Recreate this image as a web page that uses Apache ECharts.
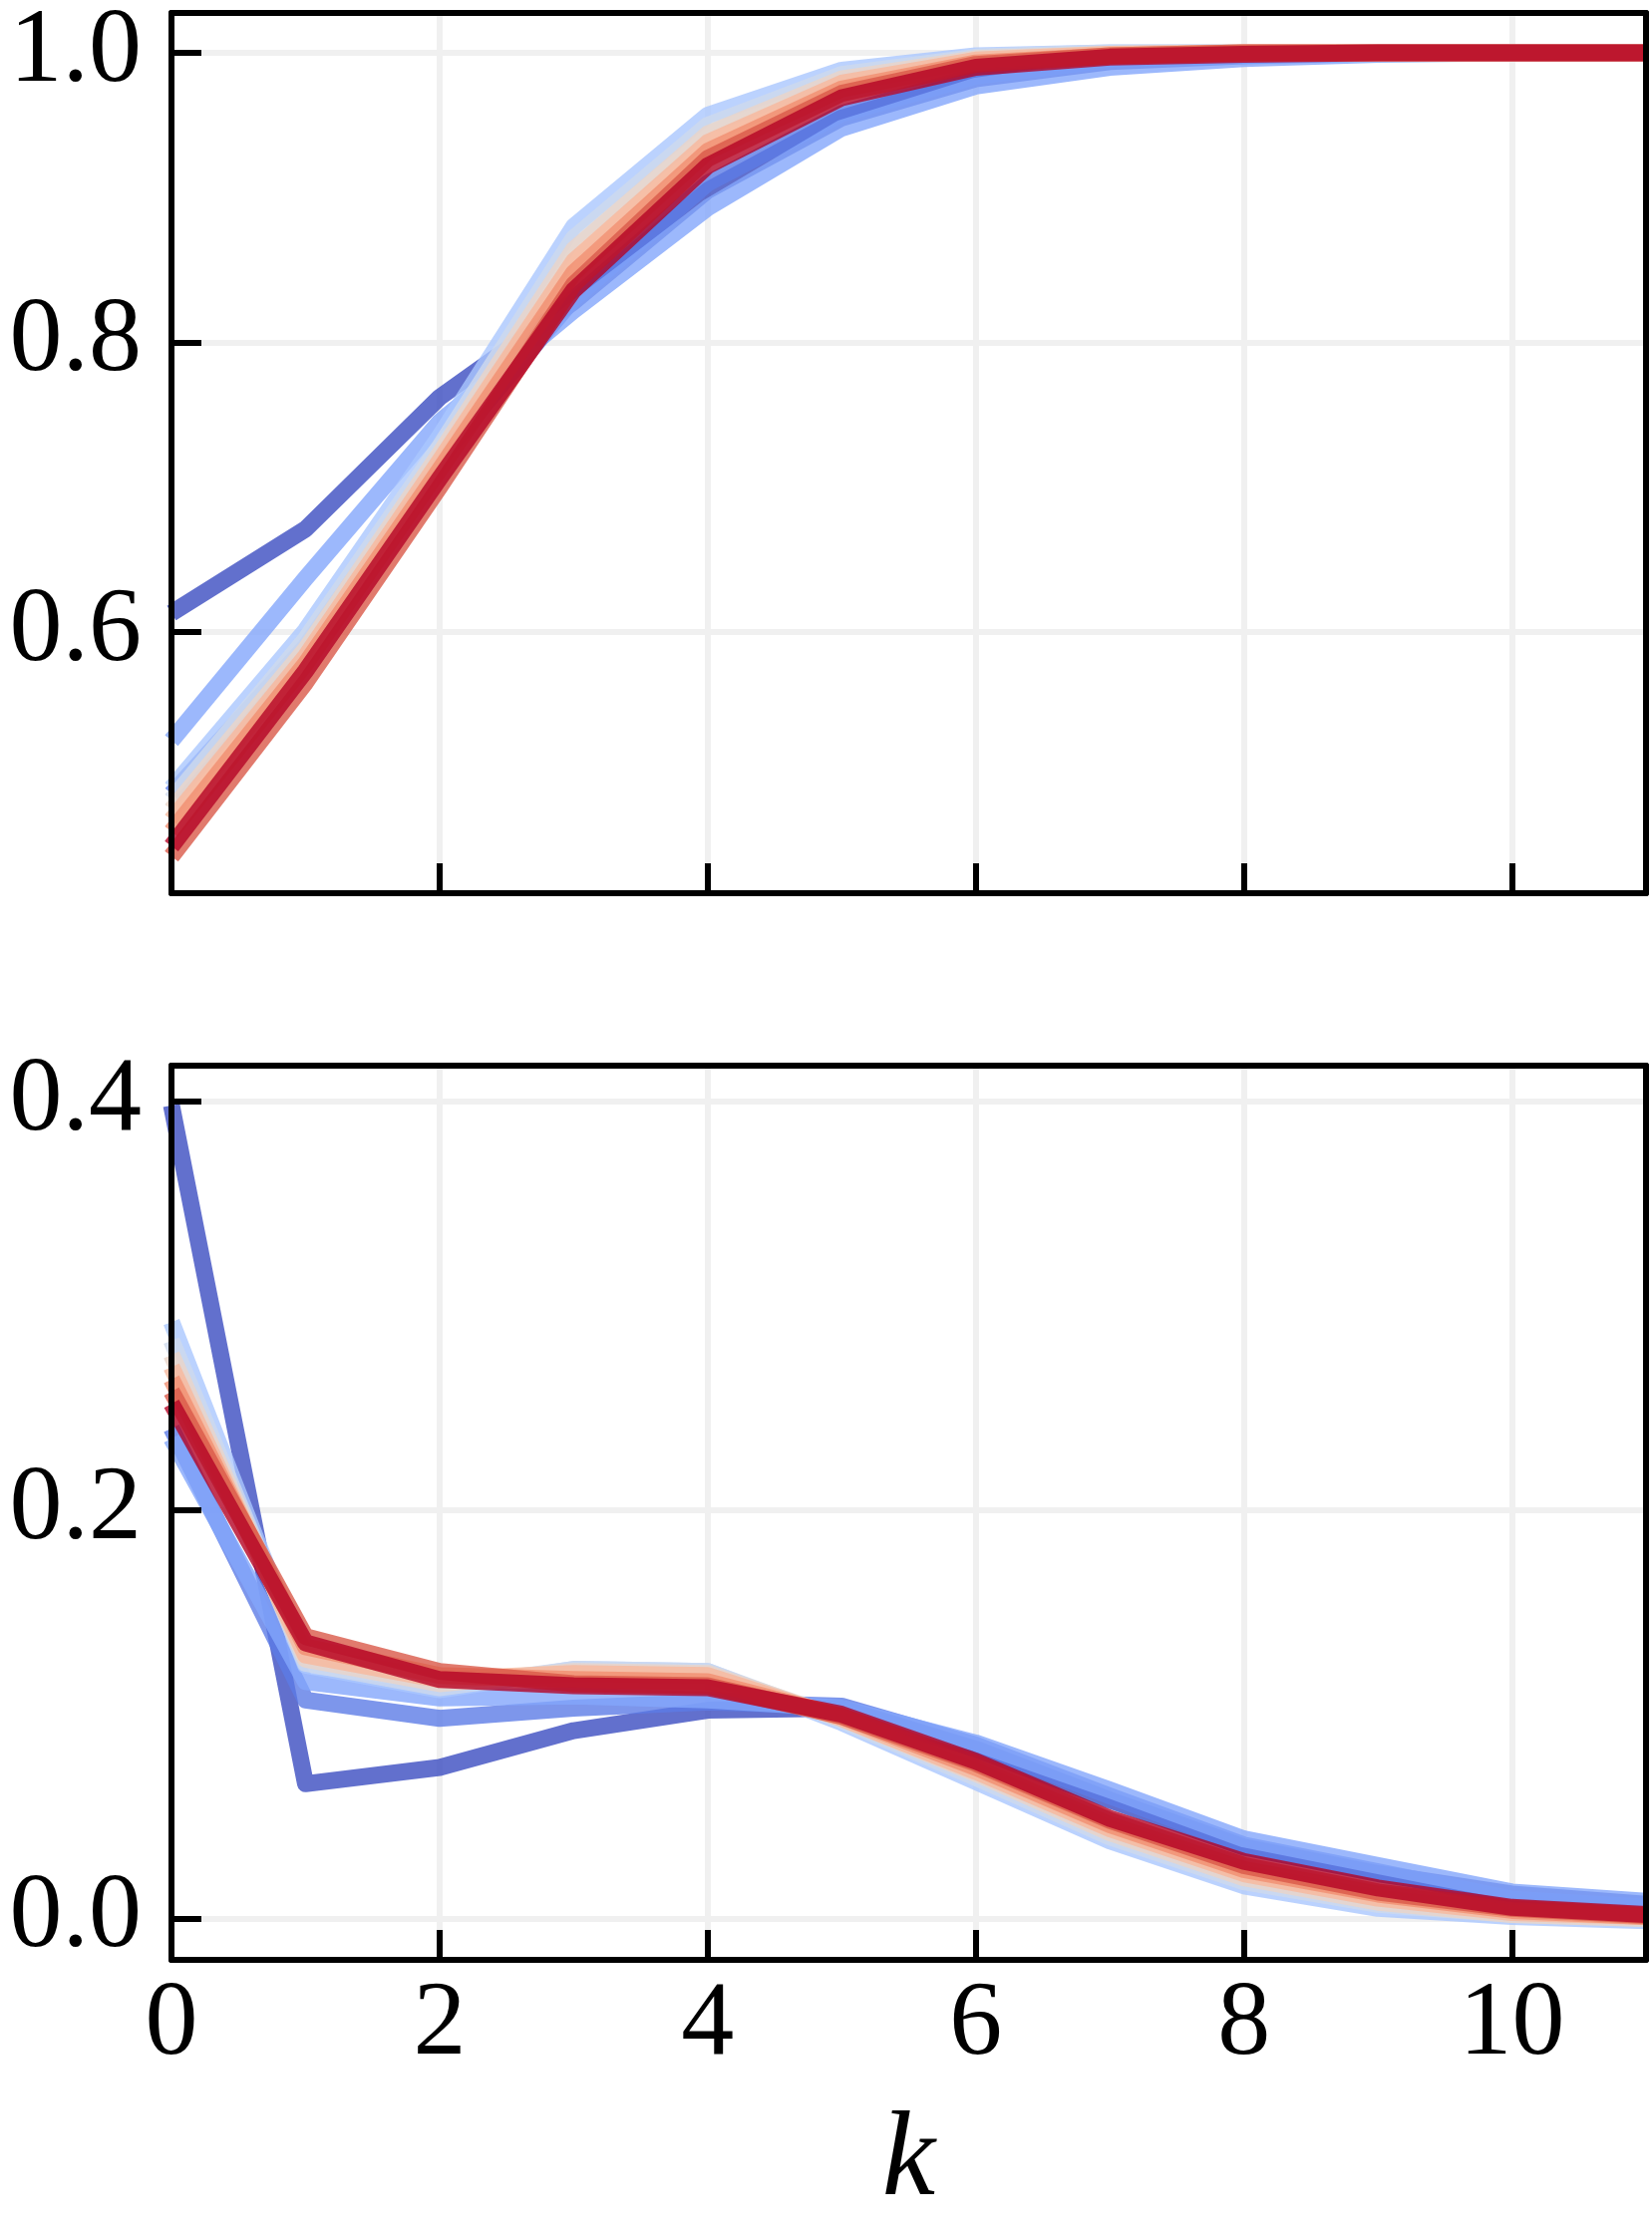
<!DOCTYPE html>
<html>
<head>
<meta charset="utf-8">
<script src="https://cdn.jsdelivr.net/npm/echarts@6/dist/echarts.min.js"></script>
<style>
    html, body {margin: 0; padding: 0; background: #fff;}
    #chart {width: 1657px; height: 2242px;}
</style>
</head>
<body>
<div id="chart"></div>
<script>
    // x values
    const ks = [0, 1, 2, 3, 4, 5, 6, 7, 8, 9, 10, 11];

    // top panel: one row per curve, blue -> red
    const topData = [
        [0.613, 0.671, 0.762, 0.828, 0.905, 0.955, 0.982, 0.994, 0.998, 1.000, 1.000, 1.000],
        [0.488, 0.590, 0.720, 0.830, 0.910, 0.958, 0.984, 0.995, 0.999, 1.000, 1.000, 1.000],
        [0.525, 0.637, 0.745, 0.822, 0.893, 0.948, 0.977, 0.990, 0.996, 0.999, 1.000, 1.000],
        [0.492, 0.601, 0.735, 0.880, 0.957, 0.988, 0.998, 1.000, 1.000, 1.000, 1.000, 1.000],
        [0.484, 0.595, 0.728, 0.872, 0.950, 0.985, 0.997, 1.000, 1.000, 1.000, 1.000, 1.000],
        [0.477, 0.588, 0.723, 0.864, 0.944, 0.982, 0.996, 0.999, 1.000, 1.000, 1.000, 1.000],
        [0.470, 0.583, 0.718, 0.856, 0.938, 0.979, 0.995, 0.999, 1.000, 1.000, 1.000, 1.000],
        [0.462, 0.578, 0.712, 0.848, 0.932, 0.975, 0.993, 0.998, 1.000, 1.000, 1.000, 1.000],
        [0.445, 0.565, 0.700, 0.840, 0.927, 0.972, 0.992, 0.998, 1.000, 1.000, 1.000, 1.000],
        [0.452, 0.573, 0.706, 0.836, 0.922, 0.969, 0.990, 0.997, 0.999, 1.000, 1.000, 1.000]
    ];

    // bottom panel
    const botData = [
        [0.398, 0.066, 0.074, 0.092, 0.102, 0.103, 0.083, 0.058, 0.035, 0.022, 0.012, 0.007],
        [0.240, 0.107, 0.098, 0.103, 0.106, 0.104, 0.085, 0.060, 0.036, 0.023, 0.0095, 0.0055],
        [0.235, 0.116, 0.108, 0.109, 0.107, 0.103, 0.086, 0.063, 0.039, 0.026, 0.013, 0.0085],
        [0.292, 0.124, 0.112, 0.122, 0.121, 0.096, 0.067, 0.038, 0.016, 0.005, 0.001, -0.001],
        [0.283, 0.125, 0.113, 0.122, 0.121, 0.097, 0.069, 0.040, 0.018, 0.007, 0.002, 0.000],
        [0.276, 0.127, 0.115, 0.121, 0.120, 0.098, 0.071, 0.042, 0.020, 0.008, 0.002, 0.000],
        [0.270, 0.129, 0.117, 0.120, 0.119, 0.098, 0.072, 0.044, 0.022, 0.010, 0.003, 0.001],
        [0.264, 0.133, 0.119, 0.117, 0.116, 0.099, 0.074, 0.046, 0.024, 0.012, 0.004, 0.001],
        [0.258, 0.138, 0.121, 0.115, 0.114, 0.099, 0.076, 0.048, 0.026, 0.013, 0.005, 0.0015],
        [0.252, 0.135, 0.117, 0.114, 0.113, 0.100, 0.077, 0.049, 0.028, 0.015, 0.0055, 0.002]
    ];

    // coolwarm, 10 steps
    const lineColors = ['#3b4cc0', '#5d7ce6', '#83a6fb', '#aac7fe', '#ced9ec',
        '#ead4c8', '#f7b89c', '#f18e70', '#da5948', '#b40426'];

    const xTicks = [0, 2, 4, 6, 8, 10];
    const yTicksTop = [0.6, 0.8, 1.0];
    const yTicksBot = [0.0, 0.2, 0.4];

    const FONT = '"Liberation Serif", "Times New Roman", Times, serif';
    const ranges = [[0.4195, 1.0275], [-0.0202, 0.4175]];
    const yTicks = [yTicksTop, yTicksBot];

    let chart = echarts.init(document.getElementById('chart'), null, {renderer: 'canvas'});

    let xAxes = [], yAxes = [];
    [0, 1].forEach(gi => {
        let last = gi === 1;
        // main x axis (ticks, labels)
        xAxes.push({
            type: 'value', gridIndex: gi, min: 0, max: 11, position: 'bottom', z: 5,
            axisLine: {show: true, onZero: false, lineStyle: {color: '#000', width: 6}},
            axisTick: {show: true, inside: true, length: 30, customValues: xTicks, lineStyle: {color: '#000', width: 6}},
            axisLabel: {show: last, customValues: xTicks, margin: 13, fontFamily: FONT, fontSize: 106, color: '#000'},
            splitLine: {show: false},
            name: last ? 'k' : '',
            nameLocation: 'middle', nameGap: 143,
            nameTextStyle: {fontFamily: FONT, fontStyle: 'italic', fontSize: 120, color: '#000'}
        });
        // top border
        xAxes.push({
            type: 'value', gridIndex: gi, min: 0, max: 11, position: 'top', z: 5,
            axisLine: {show: true, onZero: false, lineStyle: {color: '#000', width: 6}},
            axisTick: {show: false}, axisLabel: {show: false}, splitLine: {show: false}
        });
        // grid lines, under the curves
        xAxes.push({
            type: 'value', gridIndex: gi, min: 0, max: 11, position: 'bottom', z: 0,
            axisLine: {show: false}, axisLabel: {show: false},
            axisTick: {show: false, customValues: xTicks},
            splitLine: {show: true, lineStyle: {color: '#f0f0f0', width: 6}}
        });

        let yr = ranges[gi];
        yAxes.push({
            type: 'value', gridIndex: gi, min: yr[0], max: yr[1], position: 'left', z: 5,
            axisLine: {show: true, onZero: false, lineStyle: {color: '#000', width: 6}},
            axisTick: {show: true, inside: true, length: 30, customValues: yTicks[gi], lineStyle: {color: '#000', width: 6}},
            axisLabel: {
                show: true, customValues: yTicks[gi], margin: 30, fontFamily: FONT, fontSize: 106, color: '#000',
                formatter: v => v.toFixed(1)
            },
            splitLine: {show: false}
        });
        yAxes.push({
            type: 'value', gridIndex: gi, min: yr[0], max: yr[1], position: 'right', z: 5,
            axisLine: {show: true, onZero: false, lineStyle: {color: '#000', width: 6}},
            axisTick: {show: false}, axisLabel: {show: false}, splitLine: {show: false}
        });
        yAxes.push({
            type: 'value', gridIndex: gi, min: yr[0], max: yr[1], position: 'left', z: 0,
            axisLine: {show: false}, axisLabel: {show: false},
            axisTick: {show: false, customValues: yTicks[gi]},
            splitLine: {show: true, lineStyle: {color: '#f0f0f0', width: 6}}
        });
    });

    //曲线
    let series = [];
    [topData, botData].forEach((rows, gi) => {
        rows.forEach((row, i) => {
            series.push({
                type: 'line',
                xAxisIndex: gi * 3,
                yAxisIndex: gi * 3,
                data: ks.map((k, j) => [k, row[j]]),
                symbol: 'none',
                silent: true,
                lineStyle: {color: lineColors[i], width: 17, opacity: 0.8, join: 'round', cap: 'butt'}
            });
        });
    });

    chart.setOption({
        animation: false,
        backgroundColor: '#fff',
        grid: [
            {left: 172, right: 6, top: 6, height: 890},
            {left: 172, right: 6, top: 1069, height: 897}
        ],
        xAxis: xAxes,
        yAxis: yAxes,
        series: series
    });
</script>
</body>
</html>
